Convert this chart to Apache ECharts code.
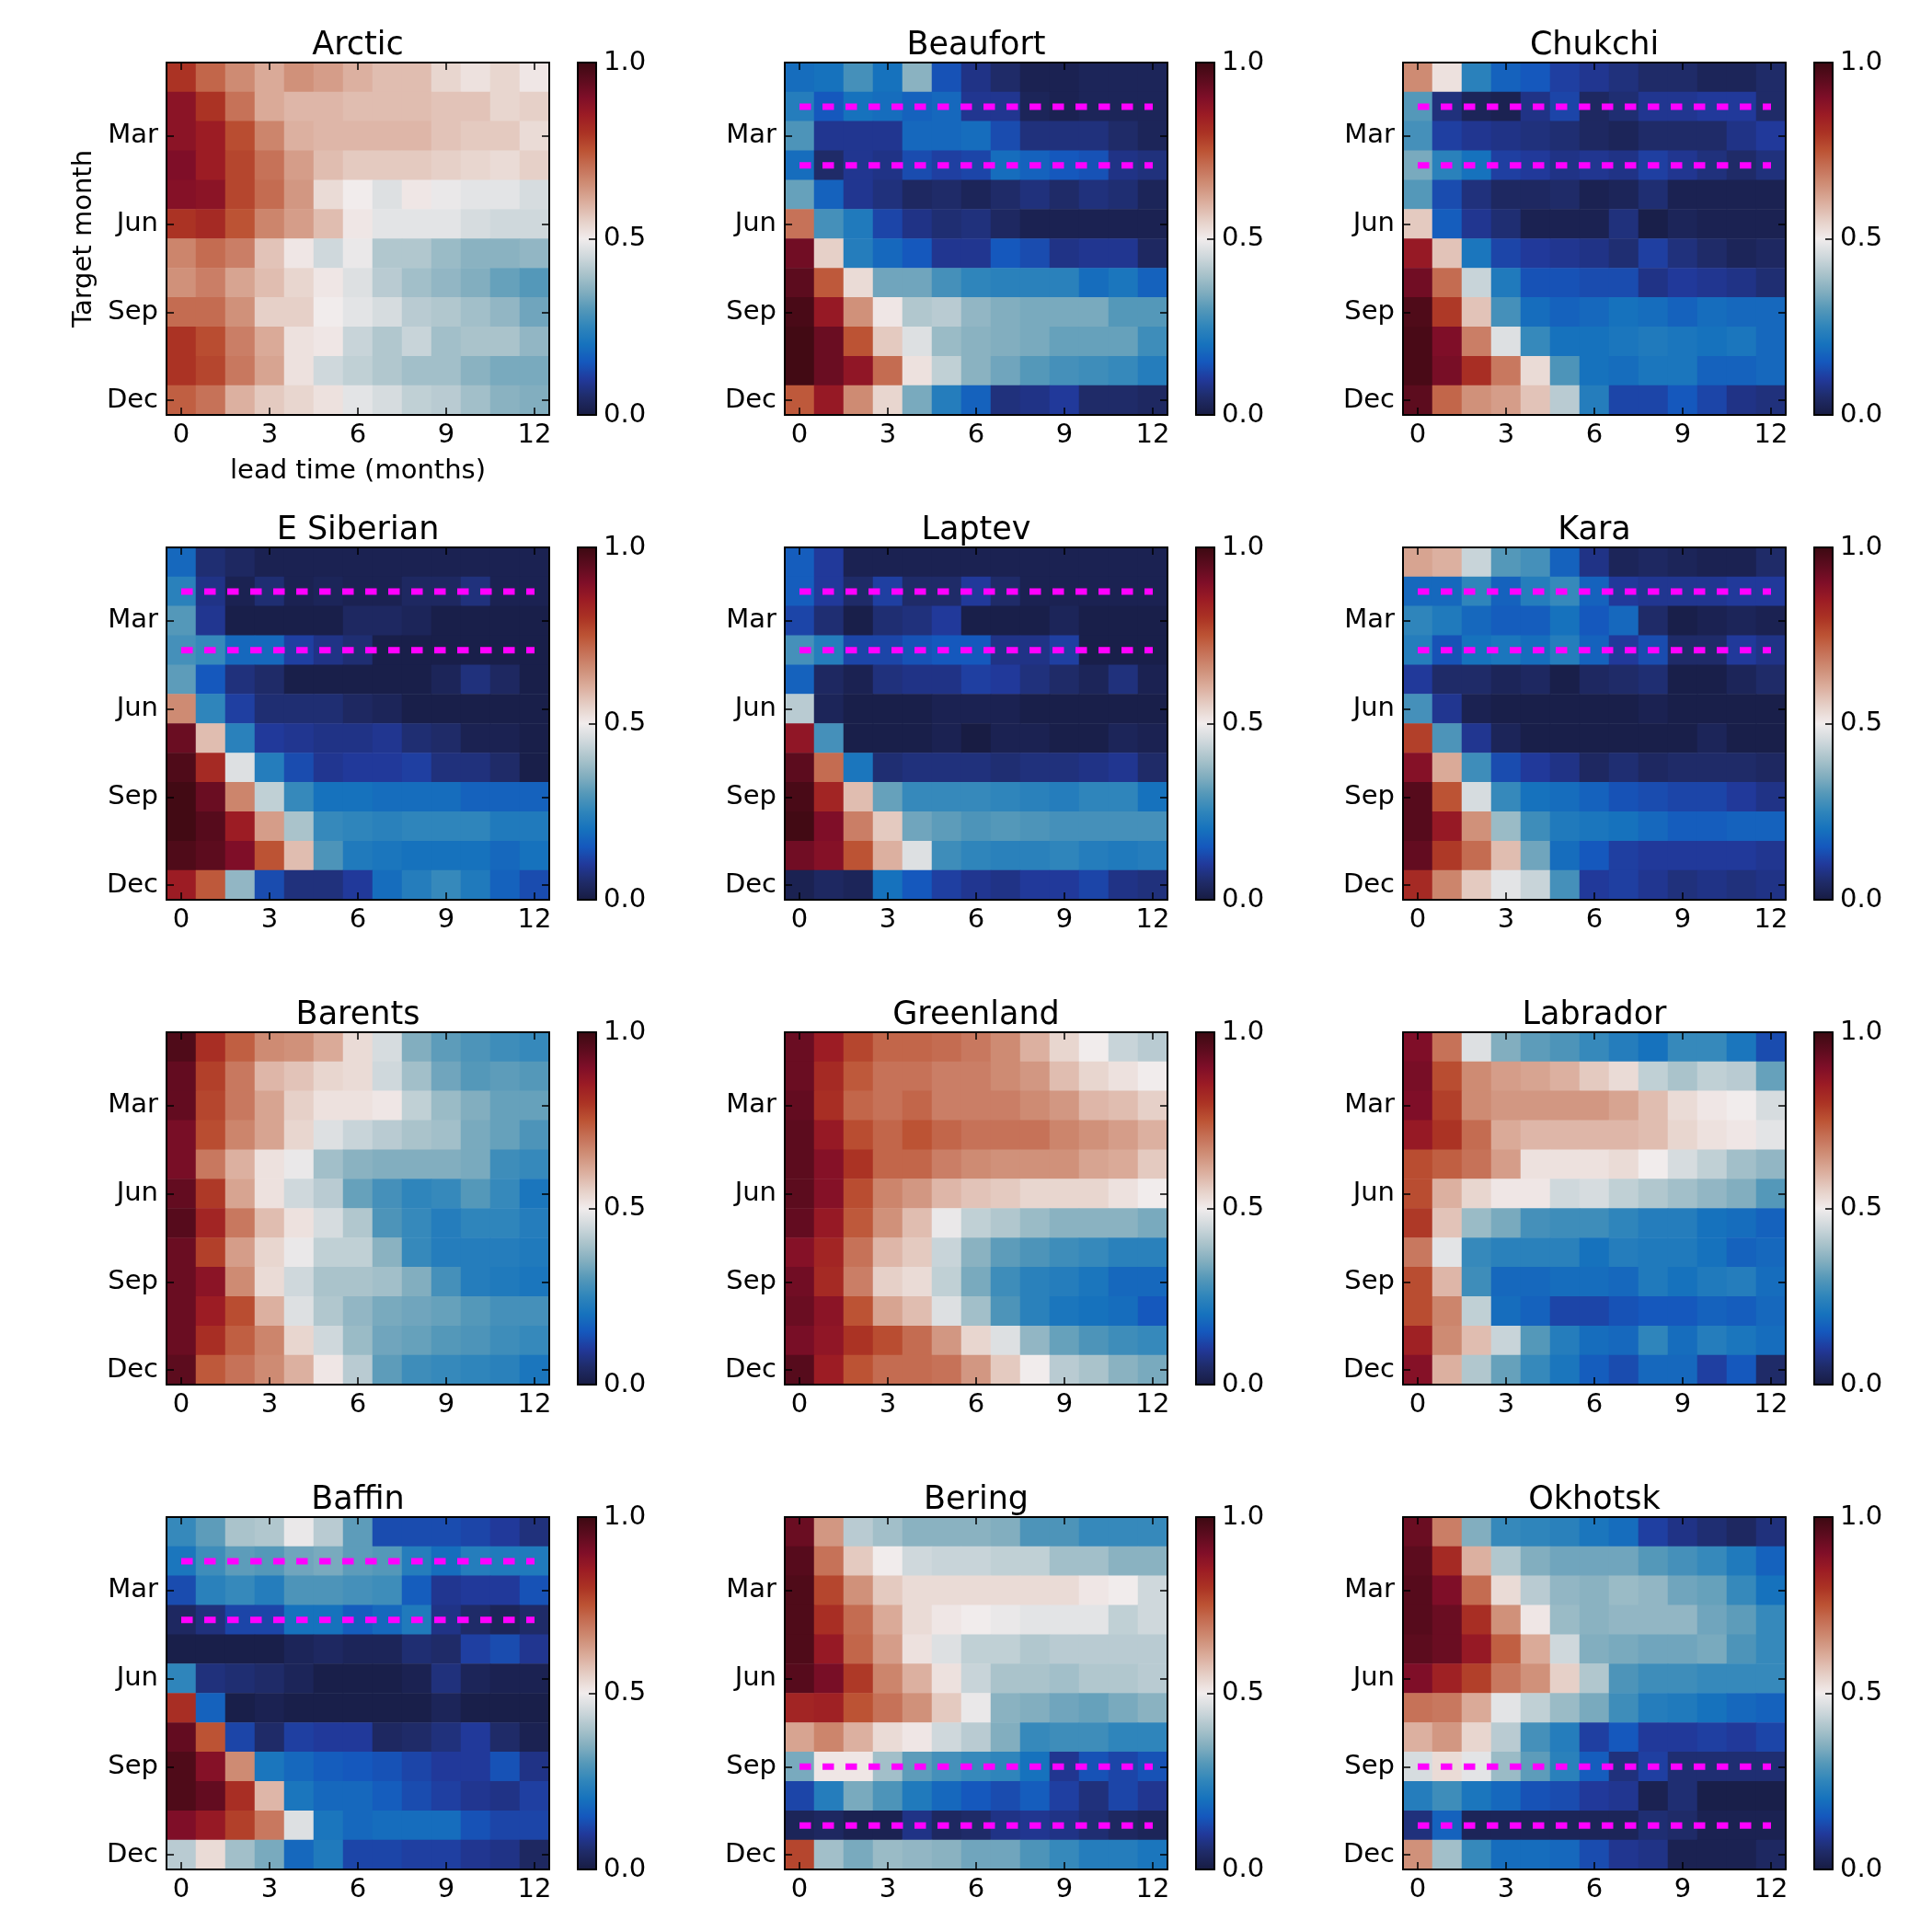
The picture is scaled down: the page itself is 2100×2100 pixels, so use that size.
<!DOCTYPE html>
<html>
<head>
<meta charset="utf-8">
<title>Sea ice forecast skill by region</title>
<style>html,body{margin:0;padding:0;background:#fff}#chart{width:2100px;height:2100px}</style>
<script src="https://cdn.jsdelivr.net/npm/echarts@6/dist/echarts.min.js"></script>
</head>
<body>
<div id="chart"></div>
<script>
// Correlation by target month (rows) and lead time in months (columns).
const leadTimes = ['0','1','2','3','4','5','6','7','8','9','10','11','12'];
const targetMonths = ['Jan','Feb','Mar','Apr','May','Jun','Jul','Aug','Sep','Oct','Nov','Dec'];
const shownLeadTicks = [0,3,6,9,12];
const shownMonthTicks = [2,5,8,11];
const regions = ['Arctic','Beaufort','Chukchi','E Siberian','Laptev','Kara','Barents','Greenland','Labrador','Baffin','Bering','Okhotsk'];

const arctic = [
[.80,.72,.66,.61,.65,.63,.60,.58,.58,.54,.52,.54,.51],
[.88,.80,.70,.61,.59,.59,.58,.58,.58,.57,.57,.54,.55],
[.88,.85,.76,.67,.60,.59,.59,.59,.59,.57,.56,.56,.53],
[.90,.85,.77,.70,.63,.58,.56,.56,.56,.55,.54,.53,.55],
[.89,.88,.77,.71,.64,.53,.50,.47,.51,.49,.48,.48,.46],
[.80,.82,.75,.67,.63,.58,.51,.48,.48,.48,.46,.45,.45],
[.67,.71,.68,.57,.51,.45,.49,.41,.41,.38,.36,.36,.37],
[.65,.68,.62,.58,.54,.51,.47,.42,.39,.37,.35,.32,.30],
[.71,.71,.65,.55,.55,.50,.48,.46,.42,.41,.39,.37,.33],
[.80,.76,.68,.61,.52,.51,.44,.41,.44,.39,.40,.40,.37],
[.80,.77,.69,.62,.52,.45,.43,.41,.39,.39,.36,.34,.34],
[.73,.70,.60,.56,.54,.52,.48,.46,.43,.42,.39,.36,.35]];
const beaufort = [
[.19,.20,.28,.20,.36,.14,.08,.05,.02,.02,.03,.03,.03],
[.23,.15,.20,.19,.17,.18,.09,.09,.03,.02,.03,.03,.03],
[.29,.09,.09,.09,.18,.18,.19,.13,.07,.07,.07,.05,.03],
[.19,.05,.09,.08,.13,.11,.12,.19,.17,.15,.14,.08,.07],
[.32,.17,.09,.07,.04,.05,.03,.05,.07,.05,.07,.06,.03],
[.70,.28,.22,.12,.08,.06,.07,.04,.02,.02,.02,.02,.02],
[.92,.55,.23,.18,.15,.09,.09,.15,.13,.08,.09,.09,.04],
[.95,.74,.53,.33,.33,.28,.25,.24,.24,.24,.19,.21,.17],
[.98,.86,.65,.51,.41,.42,.37,.35,.34,.34,.34,.30,.30],
[.99,.93,.75,.56,.47,.38,.36,.35,.34,.32,.32,.32,.27],
[.99,.93,.87,.71,.52,.43,.36,.33,.30,.28,.27,.26,.23],
[.74,.86,.66,.54,.34,.23,.17,.07,.08,.10,.05,.05,.04]];
const chukchi = [
[.66,.52,.24,.17,.15,.11,.09,.07,.05,.05,.03,.03,.05],
[.30,.07,.03,.02,.08,.12,.04,.06,.09,.09,.10,.10,.05],
[.28,.11,.09,.08,.07,.06,.04,.03,.05,.05,.05,.08,.10],
[.34,.24,.20,.11,.10,.08,.09,.08,.11,.09,.07,.05,.07],
[.30,.13,.07,.04,.04,.05,.02,.03,.06,.02,.02,.02,.02],
[.56,.16,.09,.06,.02,.02,.02,.07,.01,.03,.02,.02,.02],
[.86,.57,.21,.12,.10,.09,.08,.06,.11,.07,.05,.03,.04],
[.92,.71,.44,.22,.14,.14,.13,.13,.08,.10,.09,.08,.06],
[.97,.79,.57,.28,.19,.17,.18,.20,.19,.17,.19,.18,.18],
[.98,.90,.68,.47,.26,.20,.20,.21,.22,.21,.20,.21,.18],
[.98,.91,.81,.69,.53,.29,.20,.19,.21,.21,.17,.17,.18],
[.95,.72,.65,.63,.57,.42,.23,.12,.12,.15,.12,.08,.07]];
const eSiberian = [
[.18,.06,.04,.02,.02,.02,.02,.02,.02,.02,.02,.02,.02],
[.24,.08,.02,.06,.02,.03,.02,.02,.04,.04,.07,.02,.02],
[.30,.09,.01,.01,.01,.01,.04,.04,.03,.01,.01,.01,.01],
[.28,.26,.18,.18,.11,.08,.06,.01,.01,.01,.01,.01,.01],
[.31,.15,.07,.05,.01,.01,.01,.01,.01,.03,.07,.04,.01],
[.66,.25,.11,.06,.06,.06,.04,.03,.01,.01,.01,.01,.01],
[.93,.58,.24,.10,.09,.08,.08,.09,.06,.05,.02,.02,.01],
[.97,.82,.47,.23,.13,.09,.10,.10,.11,.07,.07,.05,.01],
[.99,.93,.67,.43,.26,.20,.20,.19,.19,.19,.17,.17,.17],
[.99,.96,.85,.63,.40,.26,.25,.24,.25,.25,.25,.22,.22],
[.97,.95,.90,.75,.58,.29,.22,.21,.20,.20,.20,.18,.20],
[.85,.74,.37,.13,.07,.07,.10,.19,.23,.26,.22,.17,.13]];
const laptev = [
[.16,.10,.02,.02,.02,.02,.02,.02,.02,.02,.02,.02,.02],
[.16,.10,.05,.11,.05,.05,.10,.05,.02,.02,.02,.02,.02],
[.12,.06,.01,.06,.07,.10,.01,.01,.01,.03,.01,.01,.01],
[.28,.23,.12,.12,.14,.15,.15,.08,.08,.11,.01,.01,.01],
[.17,.04,.02,.07,.08,.08,.11,.10,.07,.05,.03,.07,.02],
[.42,.03,.01,.01,.01,.02,.02,.02,.01,.01,.01,.01,.01],
[.87,.28,.01,.01,.01,.02,.00,.02,.02,.01,.01,.03,.02],
[.95,.71,.21,.06,.07,.07,.07,.06,.07,.07,.08,.09,.05],
[.98,.83,.58,.32,.26,.26,.26,.25,.24,.23,.25,.25,.20],
[.99,.90,.68,.56,.33,.31,.29,.30,.29,.28,.28,.28,.28],
[.92,.89,.75,.60,.47,.27,.25,.24,.24,.25,.23,.22,.23],
[.02,.04,.03,.20,.15,.11,.09,.08,.10,.10,.12,.08,.07]];
const kara = [
[.62,.60,.44,.30,.28,.17,.08,.03,.04,.03,.02,.02,.05],
[.18,.18,.25,.17,.23,.26,.17,.10,.09,.09,.09,.10,.10],
[.25,.22,.18,.16,.16,.20,.15,.18,.05,.01,.02,.03,.02],
[.23,.14,.20,.21,.19,.23,.17,.10,.13,.05,.05,.10,.08],
[.10,.05,.05,.03,.04,.01,.04,.05,.06,.01,.01,.03,.05],
[.28,.09,.02,.01,.01,.01,.01,.01,.02,.01,.01,.01,.01],
[.78,.29,.09,.03,.01,.01,.01,.01,.01,.01,.03,.01,.01],
[.89,.61,.27,.13,.10,.08,.04,.06,.04,.05,.05,.05,.04],
[.96,.75,.46,.26,.20,.19,.17,.14,.13,.12,.12,.10,.08],
[.96,.86,.65,.38,.27,.22,.21,.20,.18,.16,.16,.17,.17],
[.94,.79,.71,.58,.33,.19,.15,.11,.10,.10,.10,.10,.09],
[.82,.67,.56,.48,.44,.28,.10,.11,.09,.07,.08,.07,.08]];
const barents = [
[.97,.81,.73,.66,.65,.61,.53,.46,.35,.31,.29,.27,.26],
[.94,.78,.69,.59,.57,.54,.53,.45,.39,.33,.30,.31,.30],
[.94,.77,.69,.62,.55,.52,.52,.51,.43,.38,.35,.32,.32],
[.91,.76,.67,.62,.54,.47,.44,.42,.40,.39,.34,.32,.29],
[.91,.69,.60,.52,.49,.39,.36,.35,.35,.35,.34,.27,.26],
[.94,.79,.62,.52,.45,.42,.32,.28,.25,.26,.30,.26,.21],
[.96,.83,.69,.58,.52,.46,.41,.29,.26,.23,.25,.25,.23],
[.93,.78,.63,.54,.49,.43,.43,.36,.26,.23,.23,.23,.22],
[.93,.88,.66,.53,.45,.40,.40,.39,.35,.28,.23,.22,.21],
[.93,.85,.76,.60,.47,.41,.37,.34,.33,.32,.30,.28,.28],
[.93,.81,.73,.67,.54,.45,.38,.33,.32,.30,.29,.27,.26],
[.95,.74,.70,.66,.60,.51,.42,.31,.27,.26,.25,.24,.21]];
const greenland = [
[.93,.85,.77,.72,.72,.71,.69,.66,.60,.54,.50,.44,.42],
[.93,.82,.74,.70,.70,.68,.68,.66,.64,.58,.54,.52,.50],
[.94,.81,.72,.70,.72,.68,.68,.68,.66,.64,.59,.58,.55],
[.95,.86,.76,.72,.75,.72,.70,.70,.70,.67,.65,.63,.60],
[.95,.89,.80,.72,.72,.68,.66,.65,.65,.65,.62,.61,.56],
[.95,.89,.76,.67,.64,.59,.57,.56,.54,.54,.54,.52,.50],
[.94,.86,.74,.65,.58,.49,.43,.41,.38,.36,.36,.36,.34],
[.89,.83,.70,.59,.56,.44,.36,.31,.29,.27,.26,.24,.24],
[.92,.82,.68,.55,.53,.43,.34,.27,.24,.23,.21,.18,.18],
[.93,.88,.75,.62,.58,.47,.39,.29,.24,.21,.20,.19,.15],
[.91,.87,.80,.76,.71,.64,.54,.47,.37,.32,.29,.27,.26],
[.96,.85,.75,.71,.71,.70,.64,.56,.50,.42,.40,.36,.34]];
const labrador = [
[.90,.70,.47,.35,.31,.29,.26,.23,.20,.26,.26,.21,.13],
[.91,.76,.66,.63,.62,.60,.56,.53,.43,.40,.43,.42,.32],
[.90,.78,.66,.64,.64,.64,.64,.62,.58,.53,.51,.50,.46],
[.86,.80,.71,.61,.59,.59,.59,.59,.58,.54,.52,.51,.48],
[.76,.73,.70,.63,.52,.52,.52,.53,.50,.46,.43,.39,.37],
[.76,.60,.54,.51,.51,.45,.46,.43,.41,.39,.37,.35,.30],
[.79,.57,.38,.34,.28,.27,.27,.25,.23,.23,.20,.19,.17],
[.69,.48,.26,.24,.24,.24,.20,.23,.22,.22,.20,.17,.18],
[.76,.59,.27,.18,.18,.19,.19,.18,.22,.20,.22,.23,.19],
[.76,.67,.43,.19,.17,.12,.12,.14,.15,.15,.17,.16,.18],
[.84,.66,.58,.44,.30,.23,.19,.18,.25,.19,.23,.21,.19],
[.89,.60,.41,.32,.26,.21,.16,.13,.18,.18,.11,.15,.05]];
const baffin = [
[.26,.31,.40,.41,.49,.42,.31,.13,.13,.13,.12,.10,.07],
[.21,.27,.31,.30,.33,.34,.31,.30,.23,.19,.23,.22,.22],
[.13,.24,.26,.23,.29,.29,.28,.27,.16,.09,.10,.10,.14],
[.04,.07,.12,.12,.20,.20,.16,.18,.22,.08,.05,.03,.05],
[.01,.01,.01,.01,.03,.04,.03,.03,.06,.05,.11,.13,.09],
[.25,.07,.06,.05,.03,.01,.01,.01,.02,.07,.03,.02,.02],
[.81,.17,.01,.02,.01,.01,.01,.01,.01,.03,.01,.01,.01],
[.94,.75,.12,.05,.11,.10,.10,.04,.05,.07,.10,.05,.02],
[.97,.89,.66,.21,.18,.16,.15,.14,.12,.10,.10,.14,.08],
[.97,.94,.81,.59,.21,.18,.18,.16,.13,.11,.09,.08,.11],
[.90,.86,.78,.69,.47,.21,.18,.19,.19,.19,.14,.12,.12],
[.42,.53,.39,.34,.18,.22,.12,.12,.11,.11,.09,.08,.04]];
const bering = [
[.93,.64,.42,.39,.36,.36,.36,.35,.29,.29,.26,.26,.26],
[.96,.70,.56,.50,.45,.44,.44,.43,.43,.39,.39,.36,.36],
[.97,.77,.65,.56,.53,.53,.53,.53,.53,.53,.51,.50,.45],
[.97,.81,.71,.61,.53,.51,.50,.49,.48,.48,.48,.43,.45],
[.97,.86,.72,.63,.52,.47,.43,.43,.41,.42,.42,.42,.42],
[.96,.91,.79,.67,.60,.52,.44,.40,.40,.39,.41,.41,.42],
[.83,.84,.75,.70,.65,.56,.49,.36,.35,.33,.32,.34,.36],
[.62,.67,.60,.53,.51,.45,.42,.35,.26,.27,.27,.25,.25],
[.34,.51,.51,.39,.31,.28,.26,.25,.20,.09,.14,.12,.14],
[.12,.23,.34,.29,.22,.18,.15,.13,.16,.11,.07,.12,.09],
[.03,.04,.02,.02,.08,.04,.05,.08,.09,.08,.06,.04,.03],
[.77,.39,.34,.38,.37,.36,.33,.33,.29,.26,.23,.23,.21]];
const okhotsk = [
[.93,.68,.35,.26,.25,.24,.21,.19,.11,.08,.06,.04,.07],
[.95,.82,.60,.41,.35,.33,.33,.33,.30,.28,.26,.22,.17],
[.96,.90,.71,.53,.42,.37,.36,.38,.37,.33,.32,.26,.20],
[.96,.93,.81,.65,.51,.38,.36,.37,.37,.37,.33,.31,.26],
[.95,.93,.86,.73,.61,.45,.35,.34,.33,.33,.34,.29,.26],
[.90,.84,.78,.69,.65,.55,.41,.29,.27,.27,.26,.26,.26],
[.70,.69,.61,.48,.43,.38,.34,.27,.23,.22,.20,.18,.17],
[.60,.64,.54,.42,.28,.23,.11,.15,.10,.10,.11,.10,.12],
[.46,.53,.48,.38,.31,.24,.16,.07,.11,.06,.06,.06,.06],
[.23,.27,.21,.18,.14,.13,.10,.09,.02,.06,.01,.01,.01],
[.07,.17,.03,.03,.03,.03,.03,.03,.06,.05,.02,.02,.02],
[.65,.39,.26,.19,.19,.18,.13,.09,.08,.02,.02,.02,.04]];
const regionValues = [arctic,beaufort,chukchi,eSiberian,laptev,kara,barents,greenland,labrador,baffin,bering,okhotsk];

// Months marked with a dashed guide, per region.
const guideMonths = [[],['Feb','Apr'],['Feb','Apr'],['Feb','Apr'],['Feb','Apr'],['Feb','Apr'],[],[],[],['Feb','Apr'],['Sep','Nov'],['Sep','Nov']];
const guideLeads = ['0','12'];

const divergingColors = ['#181c43','#1f2b68','#21399a','#1558bd','#1672bd','#2f85bb','#5498b9','#82aebf','#aac3cb','#cfd8dc','#f1ecec','#e6d0c8','#dcb0a0','#d0917a','#c67258','#bc5334','#ab3324','#9c1c24','#7f0e28','#5c0c1e','#3c0912'];

const FONT = 'DejaVu Sans';
const TICK_SIZE = 29, TITLE_SIZE = 35;
const colLeft = [181,853,1525], rowTop = [68,595,1122,1649];
const PLOT_W = 416, PLOT_H = 383, BAR_GAP = 31, BAR_W = 20;

const line = {show:true,onZero:false,lineStyle:{color:'#000',width:2}};
const tick = (len,w) => ({show:true,inside:true,length:len,alignWithLabel:true,lineStyle:{color:'#000',width:w||1.5}});
const grids=[], xAxes=[], yAxes=[], series=[], titles=[], maps=[];

regions.forEach((name,i)=>{
  const left = colLeft[i%3], top = rowTop[Math.floor(i/3)];
  const isFirst = i===0;
  const xi = xAxes.length, yi = yAxes.length, gi = grids.length;
  const showX = (idx)=>shownLeadTicks.includes(idx);
  const showY = (idx)=>shownMonthTicks.includes(idx);

  grids.push({left,top,width:PLOT_W,height:PLOT_H,containLabel:false,show:false});
  // Bottom and top edges, left and right edges; the second of each pair only carries ticks.
  xAxes.push({type:'category',gridIndex:gi,data:leadTimes,position:'bottom',z:10,axisLine:line,
    axisTick:{...tick(8),interval:(idx)=>showX(idx)},
    axisLabel:{interval:(idx)=>showX(idx),color:'#000',fontFamily:FONT,fontSize:TICK_SIZE,margin:8},
    splitLine:{show:false},splitArea:{show:false},
    name:isFirst?'lead time (months)':'',nameLocation:'middle',nameGap:47,
    nameTextStyle:{color:'#000',fontFamily:FONT,fontSize:TICK_SIZE}});
  xAxes.push({type:'category',gridIndex:gi,data:leadTimes,position:'top',z:10,axisLine:line,
    axisTick:{...tick(8),interval:(idx)=>showX(idx)},axisLabel:{show:false},splitLine:{show:false}});
  yAxes.push({type:'category',gridIndex:gi,data:targetMonths,inverse:true,position:'left',z:10,axisLine:line,
    axisTick:{...tick(8),interval:(idx)=>showY(idx)},
    axisLabel:{interval:(idx)=>showY(idx),color:'#000',fontFamily:FONT,fontSize:TICK_SIZE,margin:9},
    splitLine:{show:false},splitArea:{show:false},
    name:isFirst?'Target month':'',nameLocation:'middle',nameGap:75,
    nameTextStyle:{color:'#000',fontFamily:FONT,fontSize:TICK_SIZE}});
  yAxes.push({type:'category',gridIndex:gi,data:targetMonths,inverse:true,position:'right',z:10,axisLine:line,
    axisTick:{...tick(8),interval:(idx)=>showY(idx)},axisLabel:{show:false},splitLine:{show:false}});

  const cells=[];
  regionValues[i].forEach((row,r)=>row.forEach((v,c)=>cells.push([c,r,v])));
  const seriesIndex = series.length;
  series.push({type:'heatmap',name,xAxisIndex:xi,yAxisIndex:yi,data:cells,silent:true,progressive:0,
    itemStyle:{borderWidth:0},emphasis:{disabled:true},z:2});
  guideMonths[i].forEach((m)=>{
    series.push({type:'line',xAxisIndex:xi,yAxisIndex:yi,silent:true,symbol:'none',z:4,animation:false,
      data:guideLeads.map((l)=>[l,m]),
      lineStyle:{color:'#ff00ff',width:7,type:[12.5,12.5],cap:'butt'}});
  });

  titles.push({text:name,left:left+PLOT_W/2-5,top:top-41,textAlign:'center',
    textStyle:{color:'#000',fontFamily:FONT,fontSize:TITLE_SIZE,fontWeight:'normal'}});

  // Colour bar: gradient from the visual map, frame and scale from a small grid laid over it.
  const barLeft = left+PLOT_W+BAR_GAP;
  maps.push({type:'continuous',min:0,max:1,seriesIndex,calculable:false,show:true,realtime:false,
    left:barLeft,top,itemWidth:BAR_W,itemHeight:PLOT_H,padding:0,text:null,showLabel:false,
    inRange:{color:divergingColors},hoverLink:false,silent:true});
  const bg = grids.length;
  grids.push({left:barLeft,top,width:BAR_W,height:PLOT_H,show:false});
  xAxes.push({type:'value',gridIndex:bg,min:0,max:1,position:'bottom',z:10,axisLine:line,axisTick:{show:false},axisLabel:{show:false},splitLine:{show:false}});
  xAxes.push({type:'value',gridIndex:bg,min:0,max:1,position:'top',z:10,axisLine:line,axisTick:{show:false},axisLabel:{show:false},splitLine:{show:false}});
  yAxes.push({type:'value',gridIndex:bg,min:0,max:1,interval:0.5,position:'right',z:10,axisLine:line,
    axisTick:{show:true,inside:true,length:8,lineStyle:{color:'#000',width:1.5}},
    axisLabel:{formatter:(v)=>v.toFixed(1),color:'#000',fontFamily:FONT,fontSize:TICK_SIZE,margin:8},
    splitLine:{show:false}});
  yAxes.push({type:'value',gridIndex:bg,min:0,max:1,position:'left',z:10,axisLine:line,axisTick:{show:false},axisLabel:{show:false},splitLine:{show:false}});
});

const chart = echarts.init(document.getElementById('chart'),null,{renderer:'canvas'});
chart.setOption({backgroundColor:'#fff',animation:false,title:titles,grid:grids,xAxis:xAxes,yAxis:yAxes,visualMap:maps,series,tooltip:{show:false}});
</script>
</body>
</html>
